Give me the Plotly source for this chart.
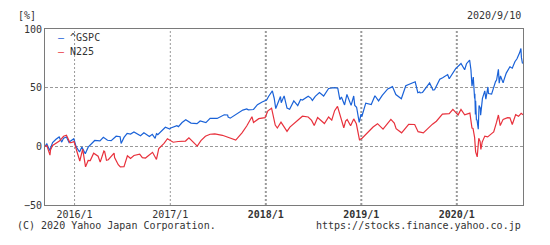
import plotly.graph_objects as go

# ---- data (percent change since 2015/9/10) ----
gspc_dates = [
    "2015-09-10","2015-09-17","2015-09-28","2015-10-02","2015-10-09","2015-10-22","2015-11-03","2015-11-13",
    "2015-11-20","2015-12-01","2015-12-11","2015-12-17","2015-12-29","2016-01-07","2016-01-15","2016-01-20",
    "2016-01-29","2016-02-11","2016-02-22","2016-03-04","2016-03-18","2016-04-07","2016-04-20","2016-05-06",
    "2016-05-19","2016-06-08","2016-06-27","2016-07-08","2016-07-20","2016-08-15","2016-09-09","2016-09-22",
    "2016-10-13","2016-11-04","2016-11-14","2016-12-13","2016-12-30","2017-01-26","2017-02-15","2017-03-01",
    "2017-03-21","2017-04-13","2017-04-25","2017-05-17","2017-06-02","2017-06-29","2017-07-26","2017-08-10",
    "2017-08-18","2017-09-11","2017-10-05","2017-10-20","2017-11-15","2017-11-30","2017-12-18","2018-01-04",
    "2018-01-26","2018-02-02","2018-02-08","2018-02-26","2018-03-12","2018-03-23","2018-04-02","2018-04-18",
    "2018-05-03","2018-05-21","2018-06-12","2018-06-28","2018-07-25","2018-08-10","2018-08-29","2018-09-20",
    "2018-10-03","2018-10-11","2018-10-17","2018-10-29","2018-11-07","2018-11-23","2018-12-03","2018-12-14",
    "2018-12-24","2018-12-31","2019-01-18","2019-02-08","2019-02-22","2019-03-08","2019-03-22","2019-04-30",
    "2019-05-13","2019-05-31","2019-06-03","2019-06-20","2019-07-26","2019-08-05","2019-08-12","2019-08-23",
    "2019-09-19","2019-10-02","2019-10-28","2019-11-08","2019-11-27","2019-12-03","2019-12-27","2020-01-17",
    "2020-01-31","2020-02-19","2020-02-28","2020-03-04","2020-03-09","2020-03-10","2020-03-12","2020-03-13",
    "2020-03-16","2020-03-23","2020-03-26","2020-04-01","2020-04-08","2020-04-17","2020-04-21","2020-04-29",
    "2020-05-13","2020-05-28","2020-06-08","2020-06-11","2020-06-26","2020-07-08","2020-07-22","2020-07-31",
    "2020-08-18","2020-08-28","2020-09-02","2020-09-04","2020-09-08","2020-09-10",
    "2016-05-20","2016-06-23","2016-08-02","2016-10-24","2016-11-09","2017-01-03","2017-02-01","2017-05-30",
    "2017-08-08","2017-09-20","2017-10-26","2018-01-12","2018-03-01","2018-04-06","2018-05-14","2018-06-22",
    "2018-07-09","2018-11-30","2018-12-07","2019-01-03","2019-04-12","2019-07-15","2019-08-14","2019-10-08",
    "2020-01-27","2020-02-07","2020-02-24","2020-03-18","2020-03-31","2020-05-01","2020-06-01","2020-06-16",
    "2020-06-29","2020-08-10",
]
gspc_values = [
    0.0, 2.0, -3.6, -0.3, 3.2, 6.0, 8.0, 3.6,
    7.0, 7.9, 3.3, 4.6, 6.5, -0.3, -3.8, -4.8,
    -0.5, -6.3, -0.7, 2.2, 5.0, 4.6, 7.7, 5.2,
    4.5, 8.6, 2.5, 7.6, 11.1, 12.2, 9.0, 11.5,
    8.4, 6.8, 10.0, 16.3, 14.7, 17.6, 20.3, 22.7,
    19.8, 19.3, 21.6, 20.2, 23.9, 23.8, 26.9, 24.9,
    24.0, 27.5, 30.9, 31.9, 31.4, 35.5, 37.8, 39.5,
    47.2, 41.0, 32.2, 42.4, 43.0, 32.6, 31.6, 38.7,
    34.7, 39.5, 42.7, 39.1, 45.8, 42.9, 49.3, 50.1,
    49.5, 39.8, 42.1, 35.3, 44.2, 34.9, 42.9, 33.3,
    20.4, 27.4, 36.8, 35.6, 43.1, 38.7, 43.4, 50.9,
    44.1, 41.0, 40.6, 51.6, 55.0, 45.7, 46.3, 45.9,
    54.0, 48.0, 57.2, 58.5, 61.2, 57.6, 66.0, 70.6,
    65.3, 73.5, 51.3, 59.0, 40.8, 44.9, 27.1, 38.9,
    22.2, 14.6, 34.7, 26.6, 40.9, 47.3, 40.3, 50.6,
    44.5, 55.2, 65.6, 53.8, 54.1, 62.4, 67.8, 66.6,
    74.6, 79.7, 83.4, 75.6, 70.7, 71.1,
    4.8, 8.2, 10.5, 10.2, 10.8, 15.7, 16.8, 23.6,
    26.7, 28.5, 31.1, 42.7, 37.2, 33.4, 39.9, 41.1,
    42.6, 41.4, 34.9, 25.4, 48.9, 54.4, 45.5, 48.2,
    66.2, 70.4, 65.3, 22.9, 32.4, 45.0, 56.5, 60.0,
    56.4, 72.1,
]

n225_dates = [
    "2015-09-10","2015-09-17","2015-09-29","2015-10-09","2015-10-26","2015-11-04","2015-11-20","2015-12-01",
    "2015-12-14","2015-12-18","2015-12-30","2016-01-12","2016-01-21","2016-02-01","2016-02-12","2016-02-22",
    "2016-03-14","2016-03-31","2016-04-08","2016-04-22","2016-05-02","2016-05-31","2016-06-16","2016-06-24",
    "2016-07-21","2016-08-02","2016-08-15","2016-09-06","2016-09-28","2016-10-25","2016-11-09","2016-11-18",
    "2016-12-21","2017-01-31","2017-03-13","2017-04-14","2017-05-15","2017-06-20","2017-07-19","2017-08-10",
    "2017-09-08","2017-10-20","2017-11-09","2017-11-15","2017-12-29","2018-01-23","2018-02-14","2018-02-28",
    "2018-03-23","2018-04-17","2018-05-21","2018-06-12","2018-07-05","2018-07-18","2018-08-13","2018-08-29",
    "2018-10-02","2018-10-26","2018-11-08","2018-11-21","2018-12-03","2018-12-25","2019-01-04","2019-01-31",
    "2019-03-04","2019-03-25","2019-04-24","2019-05-14","2019-06-04","2019-07-24","2019-08-26","2019-09-30",
    "2019-11-07","2019-12-17","2020-01-17","2020-01-31","2020-02-20","2020-02-28","2020-03-09","2020-03-13",
    "2020-03-19","2020-03-25","2020-04-02","2020-04-17","2020-05-13","2020-06-08","2020-06-15","2020-07-13",
    "2020-07-31","2020-08-13","2020-09-10",
    "2015-10-01","2016-01-04","2016-03-01","2016-04-25","2016-05-09","2016-06-02","2016-07-08","2016-07-29",
    "2016-09-16","2016-12-08","2017-01-12","2017-02-28","2017-04-28","2017-06-02","2017-08-30","2017-10-02",
    "2017-12-05","2018-01-09","2018-02-06","2018-04-03","2018-06-25","2018-09-10","2018-09-21","2018-11-02",
    "2018-12-13","2019-02-15","2019-05-07","2019-07-01","2019-08-06","2019-10-15","2019-12-03","2020-01-06",
    "2020-03-03","2020-03-30","2020-04-07","2020-04-28","2020-05-21","2020-06-01","2020-06-26","2020-07-22",
    "2020-08-24","2020-09-03",
]
n225_values = [
    0.0, 0.7, -7.5, 0.8, 3.5, 4.5, 8.6, 9.4,
    3.2, 3.1, 4.0, -5.9, -12.5, -2.4, -17.5, -12.0,
    -5.8, -8.4, -13.5, -4.0, -11.8, -5.8, -15.7, -17.5,
    -8.1, -10.4, -7.8, -6.7, -10.0, -5.1, -11.2, -1.8,
    6.5, 4.1, 7.3, 0.2, 8.6, 10.6, 9.4, 7.8,
    5.3, 17.3, 25.2, 20.4, 24.4, 32.5, 15.6, 20.6,
    12.7, 19.3, 25.7, 25.0, 17.7, 24.6, 19.4, 25.0,
    34.0, 15.8, 22.9, 17.5, 23.4, 5.5, 6.9, 13.5,
    19.3, 14.6, 23.0, 15.1, 11.5, 18.6, 11.5, 18.9,
    27.5, 31.5, 31.4, 26.8, 28.3, 15.5, 7.6, -4.7,
    -9.0, 6.8, -2.6, 8.7, 10.8, 26.7, 17.7, 24.5,
    18.6, 27.0, 27.0,
    -3.2, 0.8, -12.1, -4.5, -11.4, -9.5, -17.4, -9.5,
    -9.7, 2.5, 3.5, 4.5, 4.9, 10.3, 6.6, 11.5,
    23.6, 30.3, 18.1, 16.4, 22.1, 22.3, 30.4, 21.6,
    19.2, 16.5, 19.8, 18.7, 12.5, 21.4, 27.8, 26.8,
    15.2, 4.3, 3.6, 8.0, 12.3, 20.6, 23.0, 24.3,
    25.6, 28.2,
]

series_names = ["^GSPC", "N225"]
series_colors = ["#1a62d8", "#e8313c"]

x_range = ["2015-09-10", "2020-09-10"]
y_range = [-50, 100]
y_ticks = [-50, 0, 50, 100]
x_tick_dates = ["2016-01-01", "2017-01-01", "2018-01-01", "2019-01-01", "2020-01-01"]
x_tick_text = ["2016/1", "2017/1", "<b>2018/1</b>", "<b>2019/1</b>", "<b>2020/1</b>"]
x_tick_bold = [False, False, True, True, True]

FONT = "DejaVu Sans Mono"
TXT = "#333333"


def sorted_series(dates, values):
    pairs = sorted(zip(dates, values))
    return [p[0] for p in pairs], [p[1] for p in pairs]


fig = go.Figure()
for name, xs, ys, col in [
    (series_names[0], gspc_dates, gspc_values, series_colors[0]),
    (series_names[1], n225_dates, n225_values, series_colors[1]),
]:
    sx, sy = sorted_series(xs, ys)
    fig.add_trace(go.Scatter(x=sx, y=sy, mode="lines", name=name,
                             line=dict(color=col, width=1.2), showlegend=False))

# vertical year gridlines (thicker for the bold years)
for d, bold in zip(x_tick_dates, x_tick_bold):
    fig.add_shape(type="line", xref="x", yref="paper", x0=d, x1=d, y0=0, y1=1,
                  line=dict(color="#9a9a9a", width=2 if bold else 1, dash="2px,2px"), layer="below")

fig.update_layout(
    width=550, height=245,
    margin=dict(l=45, r=27, t=29, b=40),
    paper_bgcolor="white", plot_bgcolor="white",
    font=dict(family=FONT, size=10, color=TXT),
    xaxis=dict(range=x_range, tickvals=x_tick_dates, ticktext=x_tick_text,
               showgrid=False,
               showline=True, linecolor="#7a7a7a", linewidth=1, mirror=True,
               ticks="", zeroline=False, tickfont=dict(family=FONT, size=10, color=TXT)),
    yaxis=dict(range=y_range, tickvals=y_ticks,
               showgrid=True, gridcolor="#999999", gridwidth=1, griddash="3px,2px",
               showline=True, linecolor="#7a7a7a", linewidth=1, mirror=True,
               ticks="", zeroline=False, tickfont=dict(family=FONT, size=10, color=TXT)),
)

# legend (manual, compact as in the reference)
legend_y = [0.949, 0.875]
for name, col, yy in zip(series_names, series_colors, legend_y):
    fig.add_annotation(xref="paper", yref="paper", x=0.022, y=yy, xanchor="left", yanchor="middle",
                       showarrow=False, font=dict(family=FONT, size=10, color=TXT),
                       text=f"<span style='color:{col}'>–</span> {name}")

fig.add_annotation(xref="paper", yref="paper", x=-0.06, y=1.074, xanchor="left", yanchor="middle",
                   showarrow=False, text="[%]", font=dict(family=FONT, size=10, color=TXT))
fig.add_annotation(xref="paper", yref="paper", x=1.0, y=1.074, xanchor="right", yanchor="middle",
                   showarrow=False, text="2020/9/10", font=dict(family=FONT, size=10, color=TXT))
fig.add_annotation(xref="paper", yref="paper", x=-0.062, y=-0.114, xanchor="left", yanchor="middle",
                   showarrow=False, text="(C) 2020 Yahoo Japan Corporation.", font=dict(family=FONT, size=10, color=TXT))
fig.add_annotation(xref="paper", yref="paper", x=1.0, y=-0.114, xanchor="right", yanchor="middle",
                   showarrow=False, text="https://stocks.finance.yahoo.co.jp", font=dict(family=FONT, size=10, color=TXT))

fig.write_html("out.html")
